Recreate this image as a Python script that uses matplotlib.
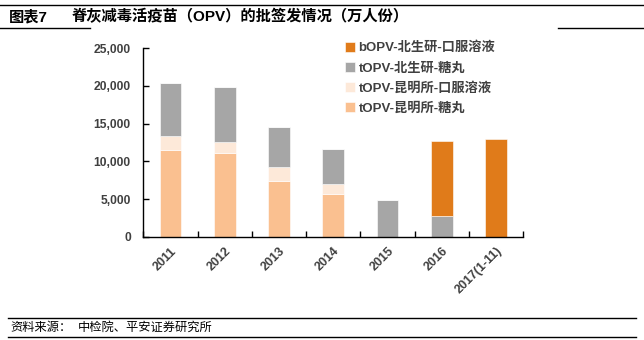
import matplotlib
matplotlib.use("Agg")
import matplotlib.pyplot as plt
from matplotlib.ticker import FuncFormatter, FixedLocator
import numpy as np

plt.rcParams['font.family'] = ['Liberation Sans', 'Noto Sans CJK SC', 'DejaVu Sans']

years = ["2011", "2012", "2013", "2014", "2015", "2016", "2017(1-11)"]
km_pill = [11500, 11100, 7400, 5700, 0, 0, 0]          # tOPV-昆明所-糖丸
km_liquid = [1870, 1450, 1800, 1250, 0, 0, 0]          # tOPV-昆明所-口服溶液
bs_pill = [7080, 7300, 5330, 4700, 4870, 2750, 0]      # tOPV-北生研-糖丸
bs_bopv = [0, 0, 0, 0, 0, 10000, 12900]                # bOPV-北生研-口服溶液

series = [
    ("tOPV-昆明所-糖丸", km_pill, "#FAC090"),
    ("tOPV-昆明所-口服溶液", km_liquid, "#FDE9D9"),
    ("tOPV-北生研-糖丸", bs_pill, "#A6A6A6"),
    ("bOPV-北生研-口服溶液", bs_bopv, "#E07B1A"),
]

fig = plt.figure(figsize=(6.44, 3.4), dpi=100)
ax = fig.add_axes([0.2225, 0.3038, 0.5901, 0.5542])

x = np.arange(len(years))
bottom = np.zeros(len(years))
handles = []
for name, vals, color in series:
    v = np.array(vals, dtype=float)
    h = ax.bar(x, v, 0.4, bottom=bottom, color=color, label=name,
               edgecolor="white", linewidth=0.4)
    handles.append(h)
    bottom += v

ax.set_xlim(-0.5, len(years) - 0.5)
ax.set_ylim(0, 25000)
ax.set_yticks(np.arange(0, 25001, 5000))
ax.yaxis.set_major_formatter(FuncFormatter(lambda v, p: f"{int(v):,}"))

ax.set_xticks(x)
ax.set_xticklabels(years, rotation=45, ha="right", va="top",
                   rotation_mode="anchor", fontsize=9, fontweight="bold",
                   color="#404040")
ax.xaxis.set_minor_locator(FixedLocator(np.arange(-0.5, len(years), 1.0)))
ax.tick_params(axis="x", which="major", length=0, pad=6)
ax.tick_params(axis="x", which="minor", direction="in", length=4, width=1,
               color="black")
ax.tick_params(axis="y", direction="in", length=4, width=1, color="black",
               labelsize=8.7, labelcolor="#404040", pad=9)
for lab in ax.get_yticklabels():
    lab.set_fontweight("bold")

for s in ["top", "right"]:
    ax.spines[s].set_visible(False)
for s in ["left", "bottom"]:
    ax.spines[s].set_linewidth(1.0)
    ax.spines[s].set_color("black")

leg = fig.legend(handles[::-1], [s[0] for s in series[::-1]],
                 loc="upper left", bbox_to_anchor=(0.528, 0.893),
                 frameon=False, fontsize=9.5, handlelength=0.75,
                 handleheight=0.75, handletextpad=0.25, labelspacing=0.58,
                 borderaxespad=0)
for t in leg.get_texts():
    t.set_color("#404040")
    t.set_fontweight("bold")

# Title block and source footer
line_kw = dict(color="black", linewidth=1.0, transform=fig.transFigure)
fig.add_artist(plt.Line2D([0.0, 1.0], [1 - 4.7 / 340] * 2, **line_kw))
fig.add_artist(plt.Line2D([0.0, 90 / 644], [1 - 27.5 / 340] * 2, **line_kw))
fig.add_artist(plt.Line2D([558 / 644, 1.0], [1 - 27.5 / 340] * 2, **line_kw))
fig.text(9 / 644, 1 - 16.7 / 340, "图表7", fontsize=11, fontweight="bold",
         va="center", ha="left")
fig.text(72 / 644, 1 - 16.7 / 340, "脊灰减毒活疫苗（OPV）的批签发情况（万人份）",
         fontsize=11, fontweight="bold", va="center", ha="left")

fig.add_artist(plt.Line2D([0.012, 0.988], [1 - 318.3 / 340] * 2, **line_kw))
fig.add_artist(plt.Line2D([0.012, 0.988], [1 - 336.5 / 340] * 2, **line_kw))
fig.text(10 / 644, 1 - 327.5 / 340, "资料来源：", fontsize=8.8,
         style="italic", va="center", ha="left")
fig.text(78 / 644, 1 - 327.5 / 340, "中检院、平安证券研究所", fontsize=8.8,
         style="italic", va="center", ha="left")

fig.savefig("out.png", dpi=100)
